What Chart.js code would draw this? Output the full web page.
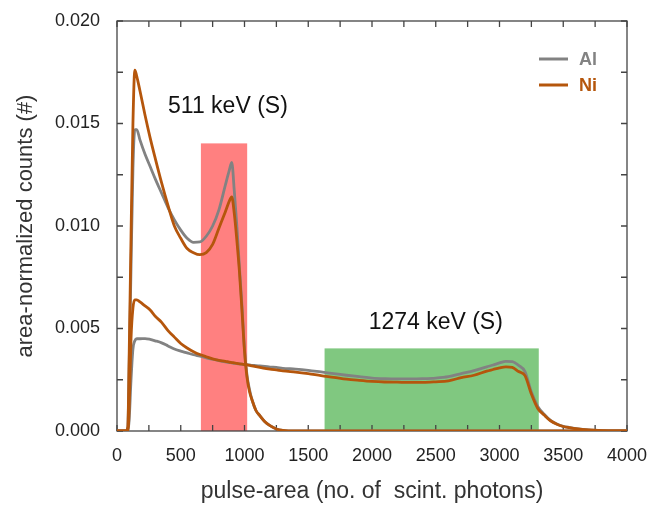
<!DOCTYPE html>
<html>
<head>
<meta charset="utf-8">
<title>pulse-area spectra</title>
<script src="https://cdn.jsdelivr.net/npm/chart.js@4.4.1/dist/chart.umd.min.js"></script>
<style>
  html, body { margin: 0; padding: 0; background: #fff; }
  #wrap { width: 649px; height: 507px; }
</style>
</head>
<body>
<div id="wrap"><canvas id="spectra" width="649" height="507"></canvas></div>
<script>
// pulse-area bins (scint. photons)
const pulseArea = [0, 70, 85, 95, 110, 125, 140, 155, 180, 220, 260, 300, 350, 400, 450, 500, 550, 600, 650, 700,
  750, 800, 850, 880, 900, 920, 940, 960, 980, 1000, 1020, 1040, 1060, 1090, 1120, 1160, 1200, 1250, 1300, 1400,
  1500, 1600, 1700, 1800, 1900, 2000, 2100, 2200, 2300, 2400, 2500, 2600, 2700, 2800, 2900, 2950, 3000, 3050, 3100,
  3150, 3200, 3250, 3300, 3350, 3400, 3450, 3500, 3550, 3600, 3700, 3800, 4000];

// 511 keV gate spectra
const al511 = [0, 0, 0.0002, 0.003, 0.008, 0.0128, 0.0147, 0.0147, 0.0142, 0.0135, 0.0129, 0.0123, 0.0116, 0.0109, 0.0103, 0.0098, 0.0094, 0.0092, 0.00922, 0.0095,
  0.0100, 0.0108, 0.0120, 0.0127, 0.0131, 0.0117, 0.0100, 0.0080, 0.0061, 0.0040, 0.0027, 0.0020, 0.0015, 0.0010, 0.00075, 0.00045, 0.00026, 0.0001, 0.00003, 0,
  0, 0, 0, 0, 0, 0, 0, 0, 0, 0, 0, 0, 0, 0, 0, 0, 0, 0, 0,
  0, 0, 0, 0, 0, 0, 0, 0, 0, 0, 0, 0, 0];
const ni511 = [0, 0, 0.0002, 0.0035, 0.0095, 0.0150, 0.0176, 0.0173, 0.0166, 0.0154, 0.0143, 0.0133, 0.0121, 0.0110, 0.0100, 0.0094, 0.0089, 0.0087, 0.0086, 0.0087,
  0.0091, 0.0099, 0.0107, 0.0112, 0.01142, 0.0106, 0.0093, 0.0078, 0.0059, 0.0039, 0.0026, 0.0019, 0.0015, 0.0010, 0.00075, 0.00045, 0.00026, 0.0001, 0.00003, 0,
  0, 0, 0, 0, 0, 0, 0, 0, 0, 0, 0, 0, 0, 0, 0, 0, 0, 0, 0,
  0, 0, 0, 0, 0, 0, 0, 0, 0, 0, 0, 0, 0];

// 1274 keV gate spectra
const al1274 = [0, 0, 0, 0.0005, 0.0025, 0.0040, 0.0044, 0.0045, 0.0045, 0.00451, 0.00447, 0.0044, 0.0043, 0.00415, 0.0040, 0.0039, 0.00381, 0.00372, 0.00365, 0.00357,
  0.0035, 0.00343, 0.00337, 0.00334, 0.00332, 0.0033, 0.00329, 0.00327, 0.00326, 0.00325, 0.00324, 0.00322, 0.0032, 0.00319, 0.00317, 0.00315, 0.00312, 0.0031, 0.00306, 0.00302,
  0.00296, 0.00288, 0.0028, 0.00272, 0.00265, 0.00258, 0.00255, 0.00254, 0.00254, 0.00255, 0.00258, 0.00265, 0.0028, 0.00295, 0.00313, 0.00322, 0.00332, 0.0034, 0.00338,
  0.0032, 0.0029, 0.0019, 0.0012, 0.00082, 0.00052, 0.00034, 0.00023, 0.00017, 0.00012, 0.00005, 0.00002, 0];
const ni1274 = [0, 0, 0, 0.001, 0.0045, 0.0060, 0.0064, 0.0064, 0.0063, 0.0061, 0.0059, 0.0056, 0.0053, 0.0049, 0.00458, 0.00427, 0.00405, 0.00387, 0.00373, 0.00362,
  0.00352, 0.00345, 0.0034, 0.00336, 0.00334, 0.00332, 0.0033, 0.00328, 0.00326, 0.00324, 0.00322, 0.0032, 0.00318, 0.00314, 0.0031, 0.00305, 0.00302, 0.00298, 0.00293, 0.00287,
  0.0028, 0.0027, 0.00262, 0.00253, 0.00247, 0.00242, 0.00239, 0.00238, 0.00237, 0.00237, 0.0024, 0.00245, 0.0026, 0.00272, 0.00292, 0.003, 0.00308, 0.00313, 0.0031,
  0.0029, 0.0027, 0.0018, 0.0011, 0.00078, 0.0005, 0.00033, 0.00022, 0.00016, 0.00011, 0.00005, 0.00002, 0];

// gate windows
const gateStart = [658, 1628];
const gateEnd = [1021, 3308];
const gateTop = [0.01403, 0.00403];
const gateText = ['511 keV (S)', '1274 keV (S)'];

// axis ticks
const xTickValues = [0, 500, 1000, 1500, 2000, 2500, 3000, 3500, 4000];
const xMinorValues = [250, 750, 1250, 1750, 2250, 2750, 3250, 3750];
const yTickValues = [0, 0.005, 0.010, 0.015, 0.020];
const yMinorValues = [0.0025, 0.0075, 0.0125, 0.0175];

const FONT = "'Liberation Sans', Arial, sans-serif";
const GREY = '#828282';
const RUST = '#b5560c';
const gateColors = ['#ff8080', '#80c880'];
// label anchors in data units
const gateLabelAt = [[870, 0.0158], [2500, 0.0053]];

const pts = ys => pulseArea.map((x, i) => ({ x, y: ys[i] }));

const line = (label, ys, color) => ({
  label,
  data: pts(ys),
  borderColor: color,
  backgroundColor: color,
  borderWidth: 2.8,
  pointRadius: 0,
  cubicInterpolationMode: 'monotone',
  fill: false
});

// drop the automatic label overflow so layout.padding alone sets the plot box
const noOverflow = s => { s.paddingTop = 0; s.paddingBottom = 0; s.paddingLeft = 0; s.paddingRight = 0; };

// gate boxes sit behind the spectra
const gatePlugin = {
  id: 'gates',
  beforeDatasetsDraw(chart) {
    const { ctx, scales: { x, y } } = chart;
    ctx.save();
    gateStart.forEach((x0, i) => {
      const left = x.getPixelForValue(x0);
      const right = x.getPixelForValue(gateEnd[i]);
      const top = y.getPixelForValue(gateTop[i]);
      const bottom = y.getPixelForValue(0);
      ctx.fillStyle = gateColors[i];
      ctx.fillRect(left, top, right - left, bottom - top);
    });

    // frame with inward ticks on all four sides
    const a = chart.chartArea;
    ctx.strokeStyle = '#444';
    ctx.lineWidth = 1.3;
    ctx.strokeRect(a.left, a.top, a.right - a.left, a.bottom - a.top);
    const len = 6;
    ctx.beginPath();
    xTickValues.concat(xMinorValues).forEach(v => {
      const px = x.getPixelForValue(v);
      ctx.moveTo(px, a.bottom); ctx.lineTo(px, a.bottom - len);
      ctx.moveTo(px, a.top); ctx.lineTo(px, a.top + len);
    });
    yTickValues.concat(yMinorValues).forEach(v => {
      const py = y.getPixelForValue(v);
      ctx.moveTo(a.left, py); ctx.lineTo(a.left + len, py);
      ctx.moveTo(a.right, py); ctx.lineTo(a.right - len, py);
    });
    ctx.stroke();
    ctx.restore();
  },
  afterDatasetsDraw(chart) {
    const { ctx, scales: { x, y } } = chart;
    ctx.save();
    ctx.fillStyle = '#111';
    ctx.font = `23px ${FONT}`;
    ctx.textAlign = 'center';
    ctx.textBaseline = 'middle';
    gateText.forEach((t, i) => {
      ctx.fillText(t, x.getPixelForValue(gateLabelAt[i][0]), y.getPixelForValue(gateLabelAt[i][1]));
    });

    // legend, top right inside the frame
    const entries = [['Al', GREY, 59], ['Ni', RUST, 85]];
    ctx.textAlign = 'left';
    ctx.font = `bold 18px ${FONT}`;
    entries.forEach(([name, color, py]) => {
      ctx.strokeStyle = color;
      ctx.lineWidth = 3;
      ctx.beginPath();
      ctx.moveTo(539, py);
      ctx.lineTo(568, py);
      ctx.stroke();
      ctx.fillStyle = color;
      ctx.fillText(name, 579, py + 1);
    });
    ctx.restore();
  }
};

new Chart(document.getElementById('spectra'), {
  type: 'line',
  data: {
    // first dataset ends up on top
    datasets: [
      line('Ni', ni511, RUST),
      line('Ni', ni1274, RUST),
      line('Al', al511, GREY),
      line('Al', al1274, GREY)
    ]
  },
  options: {
    responsive: false,
    animation: false,
    layout: { padding: { left: 0, right: 22, top: 21, bottom: 0 } },
    plugins: { legend: { display: false }, tooltip: { enabled: false } },
    scales: {
      x: {
        type: 'linear',
        min: 0,
        max: 4000,
        afterBuildTicks: s => { s.ticks = xTickValues.map(value => ({ value })); },
        afterFit: s => { s.height = 76; noOverflow(s); },
        grid: { display: false, drawTicks: false },
        border: { display: false },
        ticks: { color: '#222', font: { family: FONT, size: 18 }, padding: 14, maxRotation: 0, callback: v => String(v) },
        title: {
          display: true,
          text: 'pulse-area (no. of  scint. photons)',
          color: '#333',
          font: { family: FONT, size: 23 },
          padding: { top: 0, bottom: 2 }
        }
      },
      y: {
        min: 0,
        max: 0.02,
        afterBuildTicks: s => { s.ticks = yTickValues.map(value => ({ value })); },
        afterFit: s => { s.width = 117; noOverflow(s); },
        grid: { display: false, drawTicks: false },
        border: { display: false },
        ticks: { color: '#222', font: { family: FONT, size: 18 }, padding: 17, callback: v => v.toFixed(3) },
        title: {
          display: true,
          text: 'area-normalized counts (#)',
          color: '#333',
          font: { family: FONT, size: 22 },
          padding: { top: 13, bottom: 0 }
        }
      }
    }
  },
  plugins: [gatePlugin]
});
</script>
</body>
</html>
